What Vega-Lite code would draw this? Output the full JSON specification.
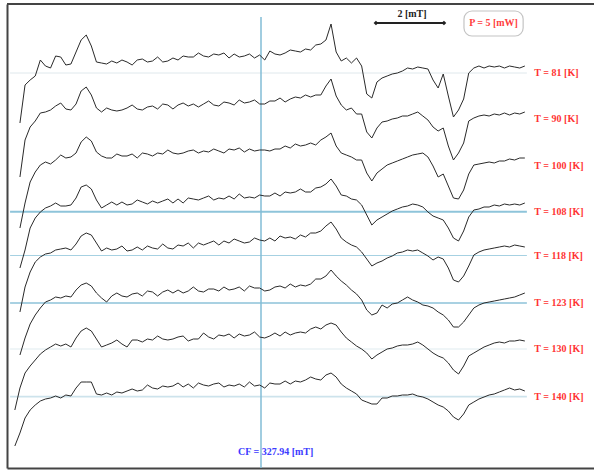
{
"$schema": "https://vega.github.io/schema/vega-lite/v6.json",
"width": 587, "height": 464,
"autosize": {"type": "none"},
"padding": {"left": 7, "top": 4, "right": 0, "bottom": 2},
"background": "white",
"config": {"view": {"stroke": null}, "axis": {"domain": true, "domainColor": "#444444", "domainWidth": 2, "ticks": false, "labels": false, "grid": false}},
"datasets": {
"spec": [
{"B":320.70,"T81":null,"T90":null,"T100":null,"T108":null,"T118":null,"T123":null,"T130":-410,"T140":-446},
{"B":320.85,"T81":-123,"T90":-177,"T100":-228,"T108":-268,"T118":-312,"T123":-355,"T130":-388,"T140":-433},
{"B":321.00,"T81":-85,"T90":-140,"T100":-203,"T108":-250,"T118":-287,"T123":-338,"T130":-373,"T140":-418},
{"B":321.15,"T81":-80,"T90":-127,"T100":-182,"T108":-228,"T118":-272,"T123":-324,"T130":-366,"T140":-410},
{"B":321.30,"T81":-76,"T90":-121,"T100":-172,"T108":-218,"T118":-262,"T123":-315,"T130":-360,"T140":-405},
{"B":321.45,"T81":-60,"T90":-113,"T100":-165,"T108":-212,"T118":-257,"T123":-308,"T130":-354,"T140":-401},
{"B":321.60,"T81":-66,"T90":-112,"T100":-162,"T108":-208,"T118":-254,"T123":-302,"T130":-350,"T140":-399},
{"B":321.75,"T81":-68,"T90":-110,"T100":-164,"T108":-206,"T118":-253,"T123":-300,"T130":-347,"T140":-398},
{"B":321.90,"T81":-56,"T90":-106,"T100":-160,"T108":-203,"T118":-250,"T123":-297,"T130":-344,"T140":-396},
{"B":322.05,"T81":-57,"T90":-103,"T100":-155,"T108":-206,"T118":-249,"T123":-298,"T130":-346,"T140":-398},
{"B":322.20,"T81":-65,"T90":-109,"T100":-158,"T108":-206,"T118":-248,"T123":-296,"T130":-344,"T140":-395},
{"B":322.35,"T81":-64,"T90":-110,"T100":-157,"T108":-205,"T118":-250,"T123":-297,"T130":-347,"T140":-396},
{"B":322.50,"T81":-52,"T90":-104,"T100":-153,"T108":-198,"T118":-244,"T123":-290,"T130":-338,"T140":-388},
{"B":322.65,"T81":-40,"T90":-91,"T100":-142,"T108":-187,"T118":-236,"T123":-285,"T130":-331,"T140":-382},
{"B":322.80,"T81":-35,"T90":-87,"T100":-137,"T108":-185,"T118":-233,"T123":-283,"T130":-328,"T140":-382},
{"B":322.95,"T81":-46,"T90":-95,"T100":-141,"T108":-189,"T118":-235,"T123":-286,"T130":-331,"T140":-382},
{"B":323.10,"T81":-62,"T90":-108,"T100":-152,"T108":-200,"T118":-243,"T123":-293,"T130":-339,"T140":-394},
{"B":323.25,"T81":-63,"T90":-112,"T100":-156,"T108":-208,"T118":-251,"T123":-298,"T130":-347,"T140":-395},
{"B":323.40,"T81":-64,"T90":-108,"T100":-158,"T108":-205,"T118":-248,"T123":-302,"T130":-345,"T140":-393},
{"B":323.55,"T81":-61,"T90":-110,"T100":-158,"T108":-202,"T118":-250,"T123":-296,"T130":-343,"T140":-395},
{"B":323.70,"T81":-63,"T90":-111,"T100":-154,"T108":-205,"T118":-249,"T123":-293,"T130":-340,"T140":-392},
{"B":323.85,"T81":-60,"T90":-110,"T100":-156,"T108":-202,"T118":-246,"T123":-296,"T130":-344,"T140":-393},
{"B":324.00,"T81":-62,"T90":-108,"T100":-156,"T108":-205,"T118":-251,"T123":-297,"T130":-347,"T140":-391},
{"B":324.15,"T81":-65,"T90":-105,"T100":-154,"T108":-204,"T118":-250,"T123":-294,"T130":-340,"T140":-389},
{"B":324.30,"T81":-60,"T90":-109,"T100":-158,"T108":-200,"T118":-247,"T123":-293,"T130":-340,"T140":-391},
{"B":324.45,"T81":-59,"T90":-110,"T100":-153,"T108":-202,"T118":-250,"T123":-296,"T130":-342,"T140":-390},
{"B":324.60,"T81":-62,"T90":-107,"T100":-154,"T108":-204,"T118":-246,"T123":-291,"T130":-339,"T140":-385},
{"B":324.75,"T81":-61,"T90":-106,"T100":-156,"T108":-201,"T118":-248,"T123":-292,"T130":-340,"T140":-388},
{"B":324.90,"T81":-57,"T90":-109,"T100":-153,"T108":-203,"T118":-249,"T123":-296,"T130":-336,"T140":-389},
{"B":325.05,"T81":-62,"T90":-104,"T100":-154,"T108":-201,"T118":-244,"T123":-292,"T130":-339,"T140":-386},
{"B":325.20,"T81":-61,"T90":-105,"T100":-150,"T108":-199,"T118":-248,"T123":-290,"T130":-340,"T140":-387},
{"B":325.35,"T81":-58,"T90":-109,"T100":-153,"T108":-203,"T118":-249,"T123":-293,"T130":-339,"T140":-386},
{"B":325.50,"T81":-60,"T90":-105,"T100":-154,"T108":-199,"T118":-245,"T123":-290,"T130":-337,"T140":-383},
{"B":325.65,"T81":-56,"T90":-103,"T100":-153,"T108":-203,"T118":-246,"T123":-293,"T130":-336,"T140":-387},
{"B":325.80,"T81":-57,"T90":-106,"T100":-151,"T108":-198,"T118":-243,"T123":-291,"T130":-341,"T140":-384},
{"B":325.95,"T81":-57,"T90":-104,"T100":-150,"T108":-199,"T118":-248,"T123":-287,"T130":-339,"T140":-388},
{"B":326.10,"T81":-53,"T90":-107,"T100":-153,"T108":-200,"T118":-243,"T123":-291,"T130":-339,"T140":-383},
{"B":326.25,"T81":-56,"T90":-104,"T100":-151,"T108":-198,"T118":-245,"T123":-292,"T130":-333,"T140":-385},
{"B":326.40,"T81":-57,"T90":-101,"T100":-152,"T108":-196,"T118":-243,"T123":-289,"T130":-337,"T140":-386},
{"B":326.55,"T81":-54,"T90":-105,"T100":-149,"T108":-200,"T118":-241,"T123":-289,"T130":-339,"T140":-384},
{"B":326.70,"T81":-55,"T90":-106,"T100":-151,"T108":-198,"T118":-245,"T123":-291,"T130":-335,"T140":-383},
{"B":326.85,"T81":-53,"T90":-102,"T100":-153,"T108":-199,"T118":-241,"T123":-287,"T130":-336,"T140":-387},
{"B":327.00,"T81":-58,"T90":-103,"T100":-149,"T108":-196,"T118":-243,"T123":-290,"T130":-334,"T140":-385},
{"B":327.15,"T81":-54,"T90":-105,"T100":-150,"T108":-199,"T118":-239,"T123":-289,"T130":-338,"T140":-386},
{"B":327.30,"T81":-57,"T90":-100,"T100":-148,"T108":-194,"T118":-241,"T123":-287,"T130":-334,"T140":-384},
{"B":327.45,"T81":-56,"T90":-103,"T100":-152,"T108":-198,"T118":-243,"T123":-291,"T130":-336,"T140":-387},
{"B":327.60,"T81":-54,"T90":-102,"T100":-149,"T108":-197,"T118":-242,"T123":-286,"T130":-335,"T140":-382},
{"B":327.75,"T81":-58,"T90":-100,"T100":-151,"T108":-198,"T118":-238,"T123":-288,"T130":-332,"T140":-386},
{"B":327.90,"T81":-55,"T90":-104,"T100":-150,"T108":-195,"T118":-240,"T123":-288,"T130":-337,"T140":-385},
{"B":328.05,"T81":-60,"T90":-104,"T100":-150,"T108":-196,"T118":-241,"T123":-291,"T130":-338,"T140":-388},
{"B":328.20,"T81":-51,"T90":-101,"T100":-151,"T108":-196,"T118":-238,"T123":-290,"T130":-336,"T140":-383},
{"B":328.35,"T81":-54,"T90":-101,"T100":-149,"T108":-193,"T118":-241,"T123":-287,"T130":-333,"T140":-384},
{"B":328.50,"T81":-55,"T90":-98,"T100":-149,"T108":-196,"T118":-236,"T123":-286,"T130":-336,"T140":-384},
{"B":328.65,"T81":-53,"T90":-102,"T100":-146,"T108":-192,"T118":-238,"T123":-288,"T130":-332,"T140":-381},
{"B":328.80,"T81":-50,"T90":-99,"T100":-148,"T108":-193,"T118":-237,"T123":-284,"T130":-335,"T140":-384},
{"B":328.95,"T81":-51,"T90":-97,"T100":-144,"T108":-192,"T118":-239,"T123":-287,"T130":-333,"T140":-381},
{"B":329.10,"T81":-52,"T90":-98,"T100":-146,"T108":-189,"T118":-235,"T123":-285,"T130":-332,"T140":-382},
{"B":329.25,"T81":-49,"T90":-95,"T100":-145,"T108":-192,"T118":-237,"T123":-286,"T130":-333,"T140":-380},
{"B":329.40,"T81":-50,"T90":-97,"T100":-143,"T108":-192,"T118":-233,"T123":-284,"T130":-329,"T140":-377},
{"B":329.55,"T81":-45,"T90":-95,"T100":-145,"T108":-188,"T118":-233,"T123":-279,"T130":-327,"T140":-379},
{"B":329.70,"T81":-44,"T90":-95,"T100":-140,"T108":-187,"T118":-231,"T123":-279,"T130":-329,"T140":-380},
{"B":329.85,"T81":-40,"T90":-86,"T100":-137,"T108":-184,"T118":-226,"T123":-276,"T130":-325,"T140":-375},
{"B":330.00,"T81":-24,"T90":-79,"T100":-133,"T108":-179,"T118":-222,"T123":-270,"T130":-323,"T140":-373},
{"B":330.15,"T81":-52,"T90":-96,"T100":-146,"T108":-186,"T118":-229,"T123":-276,"T130":-325,"T140":-377},
{"B":330.30,"T81":-61,"T90":-105,"T100":-153,"T108":-195,"T118":-238,"T123":-281,"T130":-332,"T140":-384},
{"B":330.45,"T81":-58,"T90":-110,"T100":-155,"T108":-196,"T118":-242,"T123":-285,"T130":-338,"T140":-388},
{"B":330.60,"T81":-63,"T90":-108,"T100":-157,"T108":-199,"T118":-245,"T123":-290,"T130":-342,"T140":-391},
{"B":330.75,"T81":-58,"T90":-114,"T100":-160,"T108":-200,"T118":-247,"T123":-294,"T130":-346,"T140":-394},
{"B":330.90,"T81":-66,"T90":-114,"T100":-160,"T108":-205,"T118":-252,"T123":-300,"T130":-349,"T140":-400},
{"B":331.05,"T81":-94,"T90":-132,"T100":-173,"T108":-215,"T118":-259,"T123":-310,"T130":-353,"T140":-402},
{"B":331.20,"T81":-98,"T90":-138,"T100":-181,"T108":-225,"T118":-266,"T123":-315,"T130":-359,"T140":-404},
{"B":331.35,"T81":-82,"T90":-128,"T100":-173,"T108":-220,"T118":-263,"T123":-313,"T130":-355,"T140":-404},
{"B":331.50,"T81":-78,"T90":-122,"T100":-169,"T108":-217,"T118":-261,"T123":-305,"T130":-352,"T140":-398},
{"B":331.65,"T81":-76,"T90":-121,"T100":-165,"T108":-214,"T118":-258,"T123":-308,"T130":-349,"T140":-398},
{"B":331.80,"T81":-74,"T90":-119,"T100":-163,"T108":-211,"T118":-256,"T123":-304,"T130":-348,"T140":-396},
{"B":331.95,"T81":-73,"T90":-118,"T100":-161,"T108":-209,"T118":-253,"T123":-303,"T130":-346,"T140":-396},
{"B":332.10,"T81":-71,"T90":-116,"T100":-159,"T108":-207,"T118":-252,"T123":-300,"T130":-345,"T140":-395},
{"B":332.25,"T81":-68,"T90":-116,"T100":-157,"T108":-206,"T118":-250,"T123":-297,"T130":-345,"T140":-395},
{"B":332.40,"T81":-69,"T90":-114,"T100":-155,"T108":-204,"T118":-251,"T123":-300,"T130":-344,"T140":-394},
{"B":332.55,"T81":-67,"T90":-112,"T100":-154,"T108":-205,"T118":-250,"T123":-302,"T130":-342,"T140":-396},
{"B":332.70,"T81":-68,"T90":-116,"T100":-153,"T108":-207,"T118":-253,"T123":-305,"T130":-345,"T140":-397},
{"B":332.85,"T81":-69,"T90":-120,"T100":-157,"T108":-212,"T118":-256,"T123":-306,"T130":-349,"T140":-399},
{"B":333.00,"T81":-80,"T90":-127,"T100":-166,"T108":-216,"T118":-260,"T123":-308,"T130":-353,"T140":-402},
{"B":333.15,"T81":-88,"T90":-131,"T100":-177,"T108":-218,"T118":-257,"T123":-312,"T130":-356,"T140":-405},
{"B":333.30,"T81":-74,"T90":-128,"T100":-174,"T108":-220,"T118":-259,"T123":-315,"T130":-358,"T140":-407},
{"B":333.45,"T81":-96,"T90":-146,"T100":-186,"T108":-228,"T118":-268,"T123":-320,"T130":-363,"T140":-411},
{"B":333.60,"T81":-117,"T90":-160,"T100":-198,"T108":-238,"T118":-280,"T123":-327,"T130":-370,"T140":-417},
{"B":333.75,"T81":-110,"T90":-153,"T100":-199,"T108":-241,"T118":-282,"T123":-327,"T130":-374,"T140":-420},
{"B":333.90,"T81":-99,"T90":-143,"T100":-190,"T108":-231,"T118":-276,"T123":-322,"T130":-366,"T140":-414},
{"B":334.05,"T81":-73,"T90":-121,"T100":-174,"T108":-217,"T118":-266,"T123":-315,"T130":-356,"T140":-405},
{"B":334.20,"T81":-68,"T90":-118,"T100":-165,"T108":-210,"T118":-255,"T123":-308,"T130":-353,"T140":-402},
{"B":334.35,"T81":-66,"T90":-116,"T100":-164,"T108":-209,"T118":-252,"T123":-305,"T130":-350,"T140":-399},
{"B":334.50,"T81":-68,"T90":-115,"T100":-163,"T108":-207,"T118":-250,"T123":-303,"T130":-347,"T140":-397},
{"B":334.65,"T81":-66,"T90":-116,"T100":-162,"T108":-207,"T118":-249,"T123":-302,"T130":-345,"T140":-395},
{"B":334.80,"T81":-67,"T90":-114,"T100":-163,"T108":-205,"T118":-248,"T123":-301,"T130":-343,"T140":-394},
{"B":334.95,"T81":-66,"T90":-115,"T100":-161,"T108":-206,"T118":-247,"T123":-300,"T130":-342,"T140":-392},
{"B":335.10,"T81":-68,"T90":-113,"T100":-161,"T108":-204,"T118":-246,"T123":-299,"T130":-343,"T140":-390},
{"B":335.25,"T81":-66,"T90":-115,"T100":-159,"T108":-205,"T118":-247,"T123":-298,"T130":-341,"T140":-388},
{"B":335.40,"T81":-67,"T90":-113,"T100":-160,"T108":-204,"T118":-245,"T123":-297,"T130":-341,"T140":-390},
{"B":335.55,"T81":-68,"T90":-114,"T100":-158,"T108":-205,"T118":-246,"T123":-295,"T130":-340,"T140":-389},
{"B":335.70,"T81":-66,"T90":-112,"T100":-158,"T108":-203,"T118":-247,"T123":-293,"T130":-341,"T140":-391}
],
"labels": [
{"label":"T = 81 [K]","level":-73},
{"label":"T = 90 [K]","level":-119},
{"label":"T = 100 [K]","level":-166},
{"label":"T = 108 [K]","level":-211.7},
{"label":"T = 118 [K]","level":-255.5},
{"label":"T = 123 [K]","level":-303},
{"label":"T = 130 [K]","level":-349},
{"label":"T = 140 [K]","level":-396.7}
],
"bar": [{"B":331.32},{"B":333.32}]
},
"data": {"values": [{}]},
"layer": [
{"mark": {"type": "rule", "color": "#dfe8ec", "strokeWidth": 1},
 "encoding": {"x": {"datum": 320.56, "type": "quantitative", "scale": {"domain": [320.4694, 337.7341], "nice": false, "zero": false}, "title": null}, "x2": {"datum": 335.76}, "y": {"datum": -73, "type": "quantitative", "scale": {"domain": [-468, -4], "nice": false, "zero": false}, "title": null}}},
{"mark": {"type": "rule", "color": "#8ec4da", "strokeWidth": 2},
 "encoding": {"x": {"datum": 320.56, "type": "quantitative", "title": null}, "x2": {"datum": 335.76}, "y": {"datum": -211.7, "type": "quantitative", "title": null}}},
{"mark": {"type": "rule", "color": "#a6d1e2", "strokeWidth": 1.2},
 "encoding": {"x": {"datum": 320.56, "type": "quantitative", "title": null}, "x2": {"datum": 335.76}, "y": {"datum": -255.5, "type": "quantitative", "title": null}}},
{"mark": {"type": "rule", "color": "#8cc2d8", "strokeWidth": 1.3},
 "encoding": {"x": {"datum": 320.56, "type": "quantitative", "title": null}, "x2": {"datum": 335.76}, "y": {"datum": -303, "type": "quantitative", "title": null}}},
{"mark": {"type": "rule", "color": "#eaf2f5", "strokeWidth": 1.5},
 "encoding": {"x": {"datum": 320.56, "type": "quantitative", "title": null}, "x2": {"datum": 335.76}, "y": {"datum": -349, "type": "quantitative", "title": null}}},
{"mark": {"type": "rule", "color": "#cde3ec", "strokeWidth": 1.8},
 "encoding": {"x": {"datum": 320.56, "type": "quantitative", "title": null}, "x2": {"datum": 335.76}, "y": {"datum": -396.7, "type": "quantitative", "title": null}}},
{"mark": {"type": "rule", "color": "#82bdd6", "strokeWidth": 1.5},
 "encoding": {"x": {"datum": 327.94, "type": "quantitative", "title": null}, "y": {"datum": -17, "type": "quantitative", "title": null}, "y2": {"datum": -468}}},
{"data": {"name": "spec"},
 "transform": [{"fold": ["T81","T90","T100","T108","T118","T123","T130","T140"], "as": ["T", "I"]}],
 "mark": {"type": "line", "color": "#2a2a2a", "strokeWidth": 1},
 "encoding": {"x": {"field": "B", "type": "quantitative", "title": null}, "y": {"field": "I", "type": "quantitative", "title": null}, "detail": {"field": "T", "type": "nominal"}}},
{"data": {"name": "labels"},
 "mark": {"type": "text", "align": "left", "baseline": "middle", "font": "Liberation Serif", "fontWeight": "bold", "fontSize": 10, "color": "#ff3434"},
 "encoding": {"x": {"datum": 335.98, "type": "quantitative", "title": null}, "y": {"field": "level", "type": "quantitative", "title": null}, "text": {"field": "label"}}},
{"mark": {"type": "rule", "color": "#222222", "strokeWidth": 2},
 "encoding": {"x": {"datum": 331.32, "type": "quantitative", "title": null}, "x2": {"datum": 333.32}, "y": {"datum": -23, "type": "quantitative", "title": null}}},
{"data": {"name": "bar"},
 "mark": {"type": "point", "shape": "diamond", "filled": true, "color": "#222222", "size": 22, "opacity": 1},
 "encoding": {"x": {"field": "B", "type": "quantitative", "title": null}, "y": {"datum": -23, "type": "quantitative", "title": null}}},
{"mark": {"type": "text", "text": "2 [mT]", "align": "center", "baseline": "middle", "font": "Liberation Serif", "fontWeight": "bold", "fontSize": 10, "color": "#222222"},
 "encoding": {"x": {"datum": 332.38, "type": "quantitative", "title": null}, "y": {"datum": -14, "type": "quantitative", "title": null}}},
{"mark": {"type": "rect", "cornerRadius": 8, "fill": "white", "stroke": "#c4c4c4", "strokeWidth": 1.2},
 "encoding": {"x": {"datum": 333.91, "type": "quantitative", "title": null}, "x2": {"datum": 335.65}, "y": {"datum": -11, "type": "quantitative", "title": null}, "y2": {"datum": -36}}},
{"mark": {"type": "text", "text": "P = 5 [mW]", "align": "center", "baseline": "middle", "font": "Liberation Serif", "fontWeight": "bold", "fontSize": 10, "color": "#ff4040"},
 "encoding": {"x": {"datum": 334.78, "type": "quantitative", "title": null}, "y": {"datum": -22.5, "type": "quantitative", "title": null}}},
{"mark": {"type": "text", "text": "CF = 327.94 [mT]", "align": "left", "baseline": "middle", "font": "Liberation Serif", "fontWeight": "bold", "fontSize": 10, "color": "#3c3cff"},
 "encoding": {"x": {"datum": 327.264, "type": "quantitative", "title": null}, "y": {"datum": -452, "type": "quantitative", "title": null}}},
{"mark": {"type": "rule", "color": "#444444", "strokeWidth": 2},
 "encoding": {"y": {"datum": -4, "type": "quantitative", "title": null}}}
]
}
